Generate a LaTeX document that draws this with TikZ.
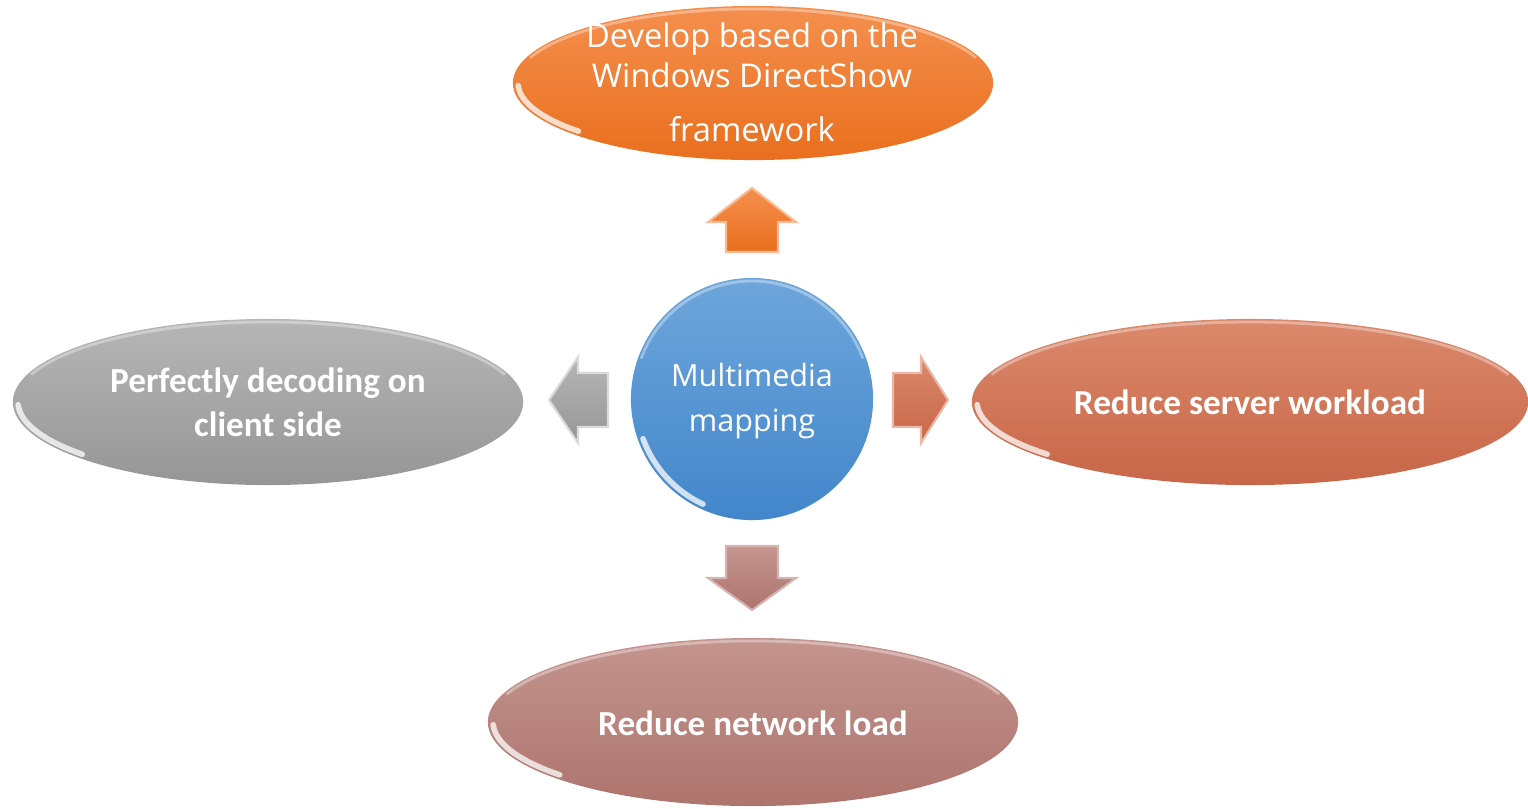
\documentclass[tikz,border=0pt]{standalone}
\usepackage{fontspec}
\setmainfont{Carlito}
\newfontfamily\segoe{Open Sans}
\usetikzlibrary{shapes.geometric,positioning}

\definecolor{orgT}{RGB}{245,143,78}
\definecolor{orgB}{RGB}{233,111,30}
\definecolor{bluT}{RGB}{110,166,219}
\definecolor{bluB}{RGB}{66,134,203}
\definecolor{gryT}{RGB}{182,182,182}
\definecolor{gryB}{RGB}{150,150,150}
\definecolor{rstT}{RGB}{219,137,108}
\definecolor{rstB}{RGB}{200,102,72}
\definecolor{rosT}{RGB}{196,148,142}
\definecolor{rosB}{RGB}{174,116,110}

\tikzset{
  bubble/.style={ellipse, inner sep=0pt, shading=axis, shading angle=0},
  gloss/.style={white, opacity=0.75, line width=1.6pt, line cap=round},
  rim/.style={white, opacity=0.35, line width=0.8pt},
  txt/.style={text=white, align=center, inner sep=0pt},
  boldtxt/.style={txt, font=\fontsize{10}{12.6}\selectfont\bfseries},
  hubtxt/.style={txt, font=\segoe\fontsize{8.7}{12.8}\selectfont},
  toptxt/.style={txt, font=\segoe\fontsize{9.3}{11.4}\selectfont}
}

\begin{document}
\begin{tikzpicture}[x=0.01cm, y=-0.01cm]
  \useasboundingbox (0,0) rectangle (1528,808);

  % hub and the four ovals
  \node[circle, inner sep=0pt, minimum size=2.42cm, shading=axis, shading angle=0,
        top color=bluT, bottom color=bluB] (hub) at (752,399) {};
  \node[bubble, minimum width=4.8cm, minimum height=1.54cm,
        top color=orgT, bottom color=orgB] (top) at (753,83) {};
  \node[bubble, minimum width=5.1cm, minimum height=1.66cm,
        top color=gryT, bottom color=gryB] (lft) at (268,402) {};
  \node[bubble, minimum width=5.56cm, minimum height=1.66cm,
        top color=rstT, bottom color=rstB] (rgt) at (1250,402) {};
  \node[bubble, minimum width=5.3cm, minimum height=1.68cm,
        top color=rosT, bottom color=rosB] (bot) at (753,722) {};

  % glossy edges
  \foreach \c/\rx/\ry/\a/\b in {top/240/77/178/138, lft/255/83/178/138,
      rgt/278/83/178/138, bot/265/84/178/138, hub/121/121/160/115} {
    \draw[gloss] (\c.center) ++(\a:\rx-5 and \ry-5)
      arc[start angle=\a, end angle=\b, x radius=\rx-5, y radius=\ry-5];
    \draw[rim] (\c.center) ++(200:\rx-3 and \ry-3)
      arc[start angle=200, end angle=340, x radius=\rx-3, y radius=\ry-3];
  }

  % texts
  \node[hubtxt] (hubTxt) at (752,401) {Multimedia\\mapping};
  \node[toptxt] (topTxt) at (752,82) {Develop based on the\\Windows DirectShow\\[4pt]framework};
  \node[boldtxt] (lftTxt) at (268,402) {Perfectly decoding on\\client side};
  \node[boldtxt] (rgtTxt) at (1250,402) {Reduce server workload};
  \node[boldtxt] (botTxt) at (753,723) {Reduce network load};

  % block arrows
  \coordinate (upA) at (752,252);
  \coordinate (dnA) at (752,546);
  \coordinate (lfA) at (608,400);
  \coordinate (rtA) at (893,400);

  \draw[shading=axis, line width=0.6pt, draw=orgT!60!white, top color=orgT, bottom color=orgB]
    (upA) ++(-26,0) -- ++(0,-30) -- ++(-18,0) -- ++(44,-34) -- ++(44,34)
    -- ++(-18,0) -- ++(0,30) -- cycle;
  \draw[shading=axis, line width=0.6pt, draw=rosT!70!white, top color=rosT, bottom color=rosB]
    (dnA) ++(-26,0) -- ++(0,32) -- ++(-18,0) -- ++(44,32) -- ++(44,-32)
    -- ++(-18,0) -- ++(0,-32) -- cycle;
  \draw[shading=axis, line width=0.6pt, draw=gryT!50!white, top color=gryT, bottom color=gryB]
    (lfA) ++(0,-27) -- ++(-30,0) -- ++(0,-16) -- ++(-29,43) -- ++(29,43)
    -- ++(0,-16) -- ++(30,0) -- cycle;
  \draw[shading=axis, line width=0.6pt, draw=rstT!60!white, top color=rstT, bottom color=rstB]
    (rtA) ++(0,-27) -- ++(28,0) -- ++(0,-16) -- ++(27,43) -- ++(-27,43)
    -- ++(0,-16) -- ++(-28,0) -- cycle;
\end{tikzpicture}
\end{document}
